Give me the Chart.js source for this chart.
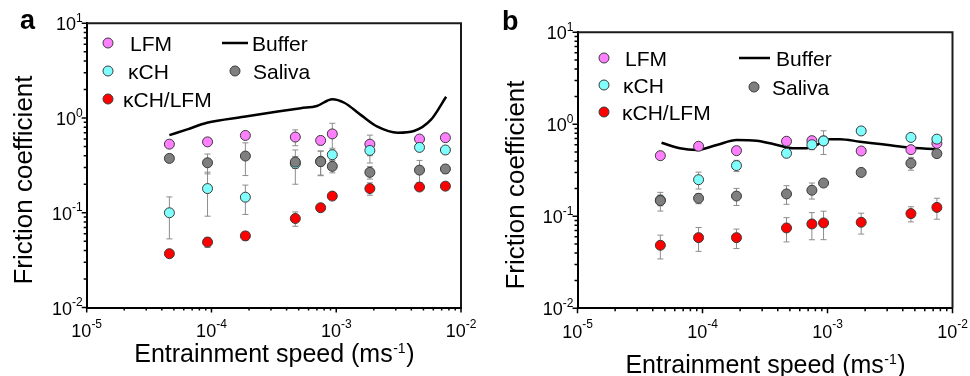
<!DOCTYPE html>
<html>
<head>
<meta charset="utf-8">
<script src="https://cdn.jsdelivr.net/npm/chart.js@4.4.1/dist/chart.umd.min.js"></script>
<style>
  html, body { margin: 0; padding: 0; background: #fff; }
  #wrap { display: flex; width: 970px; height: 376px; }
  canvas { display: block; }
</style>
</head>
<body>
<div id="wrap">
  <canvas id="panelA" width="485" height="376"></canvas>
  <canvas id="panelB" width="485" height="376"></canvas>
</div>
<script>
// entrainment speeds (m/s), same for both panels
const speeds = [4.6e-5, 9.3e-5, 1.87e-4, 4.7e-4, 7.5e-4, 9.3e-4, 1.86e-3, 4.65e-3, 7.5e-3];

// panel a
const lfmA = [0.53, 0.56, 0.655, 0.63, 0.58, 0.68, 0.53, 0.60, 0.62];
const lfmErrA = [0.03, 0.04, 0.04, 0.12, 0.06, 0.2, 0.13, 0.04, 0.05];
const kchA = [0.10, 0.18, 0.146, 0.33, 0.35, 0.41, 0.455, 0.49, 0.46];
const kchErrA = [0.047, 0.088, 0.05, 0.13, 0.1, 0.05, 0.12, 0.04, 0.04];
const salivaA = [0.375, 0.337, 0.397, 0.343, 0.346, 0.309, 0.267, 0.282, 0.29];
const salivaErrA = [0.03, 0.08, 0.15, 0.05, 0.1, 0.045, 0.04, 0.075, 0.03];
const mixA = [0.037, 0.049, 0.057, 0.087, 0.113, 0.15, 0.18, 0.187, 0.191];
const mixErrA = [0.003, 0.006, 0.006, 0.015, 0.008, 0.01, 0.027, 0.01, 0.01];
const bufferSpeedA = [4.6e-5, 6.4e-5, 9.2e-5, 1.82e-4, 3.4e-4, 5.2e-4, 7.0e-4, 9.3e-4, 1.16e-3, 1.57e-3, 2.14e-3, 3.1e-3, 4.2e-3, 5.75e-3, 7.6e-3];
const bufferA = [0.66, 0.76, 0.89, 1.03, 1.17, 1.27, 1.34, 1.58, 1.45, 1.08, 0.81, 0.70, 0.73, 0.96, 1.68];

// panel b
const lfmB = [0.456, 0.577, 0.517, 0.654, 0.664, 0.66, 0.513, 0.53, 0.62];
const lfmErrB = [0.02, 0.04, 0.03, 0.04, 0.06, 0.05, 0.04, 0.05, 0.04];
const kchB = [0.15, 0.25, 0.356, 0.484, 0.60, 0.66, 0.847, 0.72, 0.69];
const kchErrB = [0.02, 0.052, 0.05, 0.03, 0.07, 0.19, 0.05, 0.06, 0.05];
const salivaB = [0.148, 0.157, 0.166, 0.175, 0.192, 0.23, 0.30, 0.377, 0.48];
const salivaErrB = [0.034, 0.02, 0.035, 0.04, 0.038, 0.02, 0.02, 0.06, 0.03];
const mixB = [0.0484, 0.0586, 0.0586, 0.0747, 0.0826, 0.0847, 0.0861, 0.107, 0.125];
const mixErrB = [0.014, 0.017, 0.014, 0.022, 0.027, 0.029, 0.022, 0.02, 0.032];
const bufferSpeedB = [4.7e-5, 6.6e-5, 9.0e-5, 1.3e-4, 1.88e-4, 2.71e-4, 3.68e-4, 5.3e-4, 6.8e-4, 8.2e-4, 9.9e-4, 1.26e-3, 1.82e-3, 2.63e-3, 4.3e-3, 7.5e-3];
const bufferB = [0.631, 0.548, 0.526, 0.596, 0.675, 0.663, 0.611, 0.548, 0.548, 0.596, 0.687, 0.69, 0.647, 0.611, 0.562, 0.535];

const seriesNames = ['LFM', 'κCH', 'κCH/LFM', 'Buffer', 'Saliva'];
const xDecades = [1e-5, 1e-4, 1e-3, 1e-2];
const xTickExp = ['-5', '-4', '-3', '-2'];
const yDecades = [1e-2, 1e-1, 1, 10];
const yTickExp = ['-2', '-1', '0', '1'];
const xTitle = ['Entrainment speed (ms', '-1', ')'];
const yTitle = 'Friction coefficient';

const FONT = '"Liberation Sans", Arial, Helvetica, sans-serif';
const C = { lfm: '#ff80ff', kch: '#80ffff', mix: '#ff0000', saliva: '#7f7f7f', edge: '#3a3a3a' };

function pts(xs, ys) { return xs.map((x, i) => ({ x: x, y: ys[i] })); }

function minorTicks(lo, hi) {
  const out = [];
  for (let e = lo; e < hi; e++) for (let m = 2; m <= 9; m++) out.push(m * Math.pow(10, e));
  return out;
}

function drawPow(ctx, x, baseY, expY, exp, align) {
  ctx.font = '18px ' + FONT;
  const w1 = ctx.measureText('10').width;
  ctx.font = '12px ' + FONT;
  const w2 = ctx.measureText(exp).width;
  const x0 = align === 'right' ? x - w1 - w2 : x - (w1 + w2) / 2;
  ctx.textAlign = 'left';
  ctx.textBaseline = 'alphabetic';
  ctx.font = '18px ' + FONT;
  ctx.fillText('10', x0, baseY);
  ctx.font = '12px ' + FONT;
  ctx.fillText(exp, x0 + w1, expY);
}

const errorBars = {
  id: 'errorBars',
  beforeDatasetsDraw(chart) {
    const { ctx, scales: { x, y } } = chart;
    ctx.save();
    ctx.strokeStyle = '#8c8c8c';
    ctx.lineWidth = 1;
    for (let d = chart.data.datasets.length - 1; d >= 0; d--) {
      const ds = chart.data.datasets[d];
      if (!ds.errors) continue;
      ds.data.forEach((p, i) => {
        const e = ds.errors[i];
        const px = x.getPixelForValue(p.x);
        const top = y.getPixelForValue(p.y + e);
        const bot = y.getPixelForValue(Math.max(p.y - e, 1e-6));
        ctx.beginPath();
        ctx.moveTo(px, top); ctx.lineTo(px, bot);
        ctx.moveTo(px - 3, top); ctx.lineTo(px + 3, top);
        ctx.moveTo(px - 3, bot); ctx.lineTo(px + 3, bot);
        ctx.stroke();
      });
    }
    ctx.restore();
  }
};

const decor = {
  id: 'decor',
  afterDraw(chart, args, o) {
    const { ctx, chartArea: a, scales: { x, y } } = chart;
    ctx.save();
    // top and right frame
    ctx.strokeStyle = '#1a1a1a';
    ctx.lineWidth = 2;
    ctx.beginPath();
    ctx.moveTo(a.left, a.top); ctx.lineTo(a.right, a.top); ctx.lineTo(a.right, a.bottom);
    ctx.stroke();

    // tick marks, outward
    ctx.strokeStyle = '#000';
    ctx.lineWidth = 1.5;
    ctx.beginPath();
    xDecades.forEach(v => { const px = x.getPixelForValue(v); ctx.moveTo(px, a.bottom); ctx.lineTo(px, a.bottom + 5); });
    minorTicks(-5, -2).forEach(v => { const px = x.getPixelForValue(v); ctx.moveTo(px, a.bottom); ctx.lineTo(px, a.bottom + 3); });
    yDecades.forEach(v => { const py = y.getPixelForValue(v); ctx.moveTo(a.left, py); ctx.lineTo(a.left - 5, py); });
    minorTicks(-2, 1).forEach(v => { const py = y.getPixelForValue(v); ctx.moveTo(a.left, py); ctx.lineTo(a.left - 3, py); });
    ctx.stroke();

    // tick labels
    ctx.fillStyle = '#000';
    xDecades.forEach((v, i) => drawPow(ctx, x.getPixelForValue(v), a.bottom + 29.5, a.bottom + 20, xTickExp[i], 'center'));
    yDecades.forEach((v, i) => drawPow(ctx, a.left - 4, y.getPixelForValue(v) + 7, y.getPixelForValue(v) - 1.5, yTickExp[i], 'right'));

    // axis titles
    ctx.font = '25px ' + FONT;
    const w1 = ctx.measureText(xTitle[0]).width;
    const w3 = ctx.measureText(xTitle[2]).width;
    ctx.font = '14px ' + FONT;
    const w2 = ctx.measureText(xTitle[1]).width;
    let tx = (a.left + a.right) / 2 - (w1 + w2 + w3) / 2;
    ctx.textAlign = 'left';
    ctx.textBaseline = 'alphabetic';
    ctx.font = '25px ' + FONT;
    ctx.fillText(xTitle[0], tx, o.xTitleY);
    ctx.font = '14px ' + FONT;
    ctx.fillText(xTitle[1], tx + w1 + 0.5, o.xTitleY - 9);
    ctx.font = '25px ' + FONT;
    ctx.fillText(xTitle[2], tx + w1 + w2 + 1, o.xTitleY);

    ctx.save();
    ctx.translate(o.yTitleX, o.yTitleY);
    ctx.rotate(-Math.PI / 2);
    ctx.textAlign = 'center';
    ctx.font = '26px ' + FONT;
    ctx.fillText(yTitle, 0, 0);
    ctx.restore();

    // panel letter
    ctx.font = 'bold 27px ' + FONT;
    ctx.textAlign = 'left';
    ctx.fillText(o.letter, o.letterX, o.letterY);

    // legend
    ctx.font = '21px ' + FONT;
    o.legend.forEach(it => {
      if (it.line) {
        ctx.strokeStyle = '#000';
        ctx.lineWidth = 2.5;
        ctx.beginPath(); ctx.moveTo(it.mx - it.line, it.my); ctx.lineTo(it.mx + it.line, it.my); ctx.stroke();
      } else {
        ctx.beginPath();
        ctx.arc(it.mx, it.my, 5, 0, Math.PI * 2);
        ctx.fillStyle = it.color; ctx.fill();
        ctx.lineWidth = 1; ctx.strokeStyle = C.edge; ctx.stroke();
      }
      ctx.fillStyle = '#000';
      ctx.fillText(it.text, it.tx, it.my + 7.5);
    });
    ctx.restore();
  }
};

function makePanel(id, s, lay) {
  const point = (label, color, ys, errs) => ({
    label: label, data: pts(speeds, ys), errors: errs,
    backgroundColor: color, borderColor: C.edge, borderWidth: 1,
    pointRadius: 5, pointHoverRadius: 5
  });
  return new Chart(document.getElementById(id), {
    type: 'scatter',
    data: {
      datasets: [
        point(seriesNames[2], C.mix, s.mix, s.mixErr),
        point(seriesNames[4], C.saliva, s.saliva, s.salivaErr),
        point(seriesNames[1], C.kch, s.kch, s.kchErr),
        point(seriesNames[0], C.lfm, s.lfm, s.lfmErr),
        {
          label: seriesNames[3], data: pts(s.bufferSpeed, s.buffer),
          showLine: true, borderColor: '#000', borderWidth: 2.5,
          pointRadius: 0, cubicInterpolationMode: 'monotone', fill: false
        }
      ]
    },
    options: {
      responsive: false,
      animation: false,
      devicePixelRatio: 1,
      layout: { padding: lay.padding },
      scales: {
        x: {
          type: 'logarithmic', min: 1e-5, max: 1e-2,
          grid: { display: false }, ticks: { display: false },
          border: { display: true, color: '#000', width: 2 },
          afterFit: sc => { sc.height = lay.xHeight; sc.paddingLeft = 0; sc.paddingRight = 0; }
        },
        y: {
          type: 'logarithmic', min: 1e-2, max: 10,
          grid: { display: false }, ticks: { display: false },
          border: { display: true, color: '#000', width: 2 },
          afterFit: sc => { sc.width = lay.yWidth; sc.paddingTop = 0; sc.paddingBottom = 0; }
        }
      },
      plugins: {
        legend: { display: false },
        tooltip: { enabled: false },
        decor: lay
      }
    },
    plugins: [errorBars, decor]
  });
}

makePanel('panelA', {
  lfm: lfmA, lfmErr: lfmErrA, kch: kchA, kchErr: kchErrA,
  saliva: salivaA, salivaErr: salivaErrA, mix: mixA, mixErr: mixErrA,
  bufferSpeed: bufferSpeedA, buffer: bufferA
}, {
  padding: { top: 23.3, right: 24, left: 0, bottom: 0 },
  yWidth: 86.7, xHeight: 68.5,
  letter: 'a', letterX: 20, letterY: 29,
  yTitleX: 32, yTitleY: 180, xTitleY: 362,
  legend: [
    { color: C.lfm, text: seriesNames[0], mx: 108, my: 43, tx: 130 },
    { color: C.kch, text: seriesNames[1], mx: 108, my: 71, tx: 128 },
    { color: C.mix, text: seriesNames[2], mx: 108, my: 99, tx: 123 },
    { line: 13, text: seriesNames[3], mx: 235, my: 43, tx: 252 },
    { color: C.saliva, text: seriesNames[4], mx: 235, my: 71, tx: 253 }
  ]
});

makePanel('panelB', {
  lfm: lfmB, lfmErr: lfmErrB, kch: kchB, kchErr: kchErrB,
  saliva: salivaB, salivaErr: salivaErrB, mix: mixB, mixErr: mixErrB,
  bufferSpeed: bufferSpeedB, buffer: bufferB
}, {
  padding: { top: 32.3, right: 17.5, left: 0, bottom: 0 },
  yWidth: 92.5, xHeight: 67.7,
  letter: 'b', letterX: 17, letterY: 30,
  yTitleX: 39, yTitleY: 185, xTitleY: 373,
  legend: [
    { color: C.lfm, text: seriesNames[0], mx: 119, my: 58, tx: 140 },
    { color: C.kch, text: seriesNames[1], mx: 119, my: 85, tx: 138 },
    { color: C.mix, text: seriesNames[2], mx: 119, my: 112, tx: 137 },
    { line: 15.5, text: seriesNames[3], mx: 269.5, my: 58, tx: 291 },
    { color: C.saliva, text: seriesNames[4], mx: 269, my: 87, tx: 287 }
  ]
});
</script>
</body>
</html>
